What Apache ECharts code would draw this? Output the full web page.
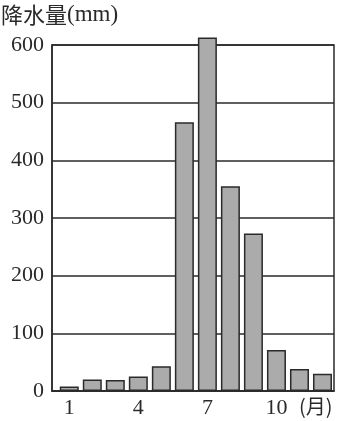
<!DOCTYPE html>
<html><head><meta charset="utf-8">
<style>html,body{margin:0;padding:0;background:#fff;}#c{width:343px;height:421px;}</style>
<script src="https://cdn.jsdelivr.net/npm/echarts@6/dist/echarts.min.js"></script>
</head><body><div id="c"></div>
<script>
const months = [1,2,3,4,5,6,7,8,9,10,11,12];
const precipitation = [8,20,19,25,43,466,613,355,273,71,38,30];
const yTicks = [0,100,200,300,400,500,600];
const xLabels = [1,4,7,10];
const yTitleCn = '降水量';
const yTitleUnit = '(mm)';
const xUnit = '(月)';

const chart = echarts.init(document.getElementById('c'));
const serif = '"Liberation Serif","DejaVu Serif",serif';
chart.setOption({
  animation:false,
  grid:{left:52,right:9,top:45,bottom:30,show:true,borderColor:'#2a2a2a',borderWidth:1.5,backgroundColor:'transparent'},
  xAxis:{type:'value',min:0.25,max:12.5,interval:0.25,
    axisLine:{show:true,lineStyle:{color:'#2a2a2a',width:1.5}},
    axisTick:{show:false},splitLine:{show:false},
    axisLabel:{color:'#2a2a2a',fontFamily:serif,fontSize:22,margin:6,
      showMinLabel:false,showMaxLabel:false,
      formatter:v=>xLabels.indexOf(v)>=0?String(v):''}},
  yAxis:{type:'value',min:yTicks[0],max:yTicks[yTicks.length-1],interval:100,
    axisLine:{show:true,lineStyle:{color:'#2a2a2a',width:1.5}},
    axisTick:{show:false},
    splitLine:{show:true,lineStyle:{color:'#2a2a2a',width:1.5}},
    axisLabel:{color:'#2a2a2a',fontFamily:serif,fontSize:22,margin:8}},
  graphic:[
    {type:'text',left:1,top:3,style:{
      text:'{a|'+yTitleCn+'}{b|'+yTitleUnit+'}',
      rich:{a:{fontFamily:'"Noto Sans CJK SC",sans-serif',fontSize:22,fill:'#2a2a2a',color:'#2a2a2a'},
            b:{fontFamily:serif,fontSize:23,fill:'#2a2a2a',color:'#2a2a2a'}}}},
    {type:'text',left:299,top:396,style:{text:xUnit,fill:'#2a2a2a',font:'20px "Noto Sans CJK SC","Liberation Serif",serif'}}
  ],
  series:[{type:'bar',barWidth:19,clip:false,
    data:months.map((m,i)=>[m,precipitation[i]]),
    itemStyle:{color:'#ababab',borderColor:'#2a2a2a',borderWidth:1.5}}]
});
</script></body></html>
